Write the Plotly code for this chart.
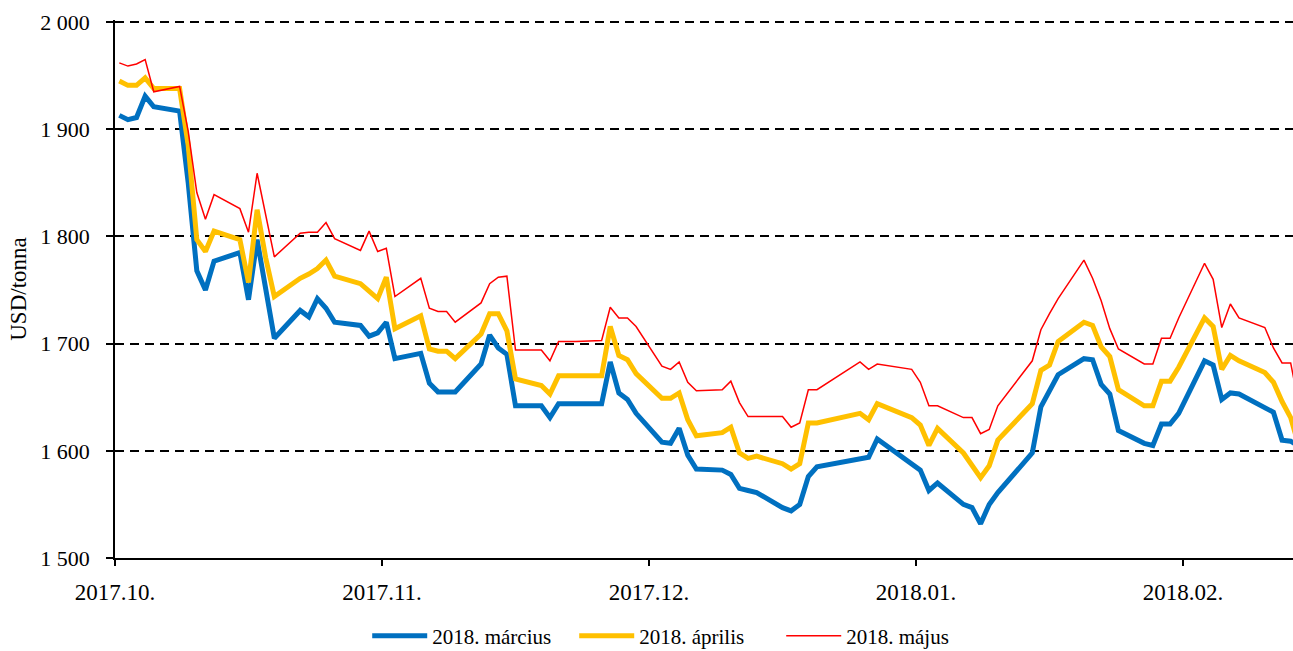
import plotly.graph_objects as go

# Trading days (settlement dates)
dates = [
    "2017-10-02", "2017-10-03", "2017-10-04", "2017-10-05", "2017-10-06",
    "2017-10-09", "2017-10-10", "2017-10-11", "2017-10-12", "2017-10-13",
    "2017-10-16", "2017-10-17", "2017-10-18", "2017-10-19", "2017-10-20",
    "2017-10-23", "2017-10-24", "2017-10-25", "2017-10-26", "2017-10-27",
    "2017-10-30", "2017-10-31",
    "2017-11-01", "2017-11-02", "2017-11-03", "2017-11-06", "2017-11-07",
    "2017-11-08", "2017-11-09", "2017-11-10", "2017-11-13", "2017-11-14",
    "2017-11-15", "2017-11-16", "2017-11-17", "2017-11-20", "2017-11-21",
    "2017-11-22", "2017-11-24", "2017-11-27", "2017-11-28", "2017-11-29",
    "2017-11-30",
    "2017-12-01", "2017-12-04", "2017-12-05", "2017-12-06", "2017-12-07",
    "2017-12-08", "2017-12-11", "2017-12-12", "2017-12-13", "2017-12-14",
    "2017-12-15", "2017-12-18", "2017-12-19", "2017-12-20", "2017-12-21",
    "2017-12-22", "2017-12-27", "2017-12-28", "2017-12-29",
    "2018-01-02", "2018-01-03", "2018-01-04", "2018-01-05", "2018-01-08",
    "2018-01-09", "2018-01-10", "2018-01-11", "2018-01-12", "2018-01-16",
    "2018-01-17", "2018-01-18", "2018-01-19", "2018-01-22", "2018-01-23",
    "2018-01-24", "2018-01-25", "2018-01-26", "2018-01-29", "2018-01-30",
    "2018-01-31",
    "2018-02-01", "2018-02-02", "2018-02-05", "2018-02-06", "2018-02-07",
    "2018-02-08", "2018-02-09", "2018-02-12", "2018-02-13", "2018-02-14",
    "2018-02-15", "2018-02-16",
]

# Contract prices, USD/tonna
marcius = [
    1913, 1909, 1911, 1931, 1921, 1917, 1850, 1768, 1750, 1777, 1785, 1741,
    1797, 1748, 1705, 1731, 1725, 1742, 1733, 1720, 1717, 1707,
    1710, 1720, 1686, 1691, 1663, 1655, 1655, 1655, 1681, 1708, 1696, 1690,
    1642, 1642, 1631, 1644, 1644, 1644, 1683, 1654, 1648,
    1635, 1608, 1607, 1621, 1596, 1583, 1582, 1578, 1565, 1563, 1561, 1547,
    1544, 1550, 1576, 1585, 1592, 1594, 1611,
    1588, 1582, 1563, 1570, 1550, 1547, 1532, 1550, 1561, 1598, 1641, 1656,
    1671, 1686, 1685, 1662, 1653, 1619, 1607, 1605, 1625,
    1625, 1635, 1684, 1680, 1648, 1654, 1653, 1641, 1636, 1610, 1609, 1604,
]
aprilis = [
    1945, 1941, 1941, 1948, 1938, 1938, 1885, 1797, 1786, 1805, 1797, 1757,
    1825, 1780, 1744, 1761, 1765, 1770, 1778, 1763, 1756, 1749,
    1742, 1762, 1714, 1726, 1695, 1693, 1693, 1686, 1709, 1728, 1728, 1712,
    1667, 1661, 1653, 1670, 1670, 1670, 1716, 1689, 1685,
    1672, 1649, 1649, 1654, 1629, 1614, 1617, 1622, 1598, 1593, 1595, 1588,
    1583, 1588, 1626, 1626, 1635, 1629, 1644,
    1631, 1624, 1605, 1621, 1598, 1587, 1575, 1586, 1610, 1644, 1675, 1680,
    1702, 1720, 1717, 1697, 1688, 1657, 1642, 1642, 1665,
    1665, 1678, 1724, 1716, 1676, 1689, 1684, 1673, 1664, 1646, 1631, 1603,
]
majus = [
    1962, 1959, 1961, 1965, 1935, 1940, 1898, 1841, 1816, 1839, 1826, 1804,
    1859, 1820, 1781, 1803, 1804, 1804, 1813, 1798, 1787, 1805,
    1786, 1789, 1744, 1761, 1733, 1730, 1730, 1720, 1738, 1756, 1762, 1763,
    1694, 1694, 1684, 1702, 1702, 1703, 1734, 1724, 1724,
    1716, 1679, 1676, 1683, 1664, 1656, 1657, 1665, 1645, 1632, 1632, 1632,
    1622, 1626, 1657, 1657, 1683, 1676, 1681,
    1676, 1664, 1642, 1642, 1631, 1631, 1616, 1620, 1642, 1684, 1713, 1728,
    1742, 1778, 1761, 1740, 1714, 1695, 1681, 1681, 1705,
    1705, 1724, 1775, 1760, 1715, 1737, 1724, 1715, 1696, 1682, 1682, 1641,
]

series_names = ["2018. március", "2018. április", "2018. május"]
y_ticks = [1500, 1600, 1700, 1800, 1900, 2000]

FONT = "Liberation Serif"
DAY_MS = 86400000

fig = go.Figure()
for name, values, color, width in [
    (series_names[0], marcius, "#0070C0", 5),
    (series_names[1], aprilis, "#FFC000", 5),
    (series_names[2], majus, "#FF0000", 1.5),
]:
    fig.add_trace(go.Scatter(
        x=dates, y=values, name=name, mode="lines",
        line=dict(color=color, width=width),
    ))

fig.update_layout(
    width=1293, height=651,
    margin=dict(l=115, r=0, t=20, b=93),
    paper_bgcolor="white", plot_bgcolor="white",
    separators=", ",
    font=dict(family=FONT, size=22, color="black"),
    showlegend=True,
    legend=dict(
        orientation="h",
        xref="container", yref="container",
        x=0.284, xanchor="left",
        y=0.023, yanchor="middle",
        font=dict(family=FONT, size=21, color="black"),
        itemwidth=55,
        entrywidth=137, entrywidthmode="pixels",
        bgcolor="rgba(0,0,0,0)",
    ),
)

fig.update_xaxes(
    type="date",
    range=["2017-10-01 12:00", "2018-02-15 06:30"],
    tick0="2017-10-01 12:00",
    dtick=31 * DAY_MS,
    tickformat="%Y.%m.",
    tickfont=dict(family=FONT, size=23, color="black"),
    showgrid=False,
    showline=True, linecolor="black", linewidth=2,
    ticks="outside", ticklen=6, tickwidth=1.5, tickcolor="black",
    ticklabelstandoff=6,
    zeroline=False,
)

fig.update_yaxes(
    range=[1500, 2002],
    tickvals=y_ticks,
    tickformat=",d",
    tickfont=dict(family=FONT, size=22, color="black"),
    showgrid=True, gridcolor="black", gridwidth=1.5, griddash="9px,6px",
    showline=True, linecolor="black", linewidth=1.5,
    ticks="outside", ticklen=7, tickwidth=1.5, tickcolor="black",
    ticklabelstandoff=12,
    zeroline=False,
    title=dict(text="USD/tonna", font=dict(family=FONT, size=23, color="black"),
               standoff=7),
)

fig.write_html("out.html")
